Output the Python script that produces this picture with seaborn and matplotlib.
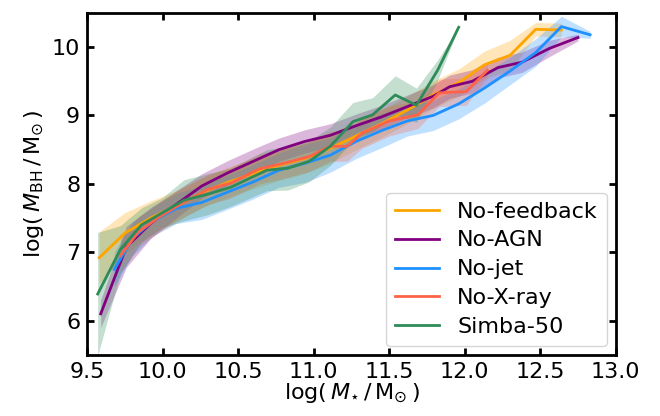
import numpy as np
import pandas as pd
import matplotlib
matplotlib.use("Agg")
import matplotlib.pyplot as plt
import seaborn as sns

names = ["No-feedback", "No-AGN", "No-jet", "No-X-ray", "Simba-50"]
colors = ["orange", "purple", "dodgerblue", "tomato", "seagreen"]

nofb_x = [9.58, 9.75, 9.92, 10.09, 10.26, 10.43, 10.60, 10.77, 10.94, 11.11, 11.28, 11.45, 11.62, 11.79, 11.96, 12.13, 12.30, 12.47, 12.64]
nofb_y = [6.92, 7.28, 7.50, 7.68, 7.87, 8.02, 8.15, 8.27, 8.37, 8.52, 8.70, 8.88, 9.08, 9.30, 9.48, 9.74, 9.88, 10.26, 10.25]
nofb_e = [0.38, 0.30, 0.25, 0.22, 0.22, 0.22, 0.22, 0.22, 0.22, 0.22, 0.20, 0.20, 0.20, 0.20, 0.20, 0.20, 0.22, 0.10, 0.10]

noagn_x = [9.59, 9.76, 9.92, 10.09, 10.26, 10.43, 10.60, 10.77, 10.94, 11.11, 11.28, 11.45, 11.62, 11.79, 11.90, 12.05, 12.22, 12.38, 12.56, 12.75]
noagn_y = [6.10, 7.08, 7.42, 7.70, 7.97, 8.16, 8.33, 8.50, 8.62, 8.71, 8.85, 8.98, 9.13, 9.28, 9.42, 9.50, 9.70, 9.78, 9.98, 10.14]
noagn_e = [0.20, 0.30, 0.22, 0.20, 0.18, 0.18, 0.18, 0.17, 0.17, 0.17, 0.17, 0.17, 0.17, 0.17, 0.17, 0.17, 0.15, 0.15, 0.12, 0.05]

nojet_x = [9.68, 9.80, 9.93, 10.09, 10.26, 10.43, 10.60, 10.77, 10.94, 11.11, 11.28, 11.45, 11.62, 11.79, 11.96, 12.13, 12.30, 12.47, 12.64, 12.83]
nojet_y = [6.75, 7.20, 7.45, 7.64, 7.73, 7.88, 8.03, 8.20, 8.30, 8.42, 8.62, 8.78, 8.92, 9.00, 9.17, 9.40, 9.65, 9.92, 10.30, 10.18]
nojet_e = [0.25, 0.25, 0.22, 0.22, 0.25, 0.25, 0.25, 0.25, 0.28, 0.25, 0.25, 0.25, 0.22, 0.22, 0.22, 0.22, 0.20, 0.20, 0.15, 0.05]

noxr_x = [9.72, 9.84, 9.98, 10.14, 10.30, 10.45, 10.64, 10.80, 10.97, 11.11, 11.22, 11.32, 11.50, 11.69, 11.83, 12.01, 12.15]
noxr_y = [6.95, 7.30, 7.52, 7.73, 7.92, 8.01, 8.22, 8.30, 8.40, 8.55, 8.55, 8.74, 8.92, 9.01, 9.33, 9.35, 9.66]
noxr_e = [0.25, 0.22, 0.22, 0.22, 0.22, 0.22, 0.22, 0.22, 0.22, 0.22, 0.22, 0.22, 0.22, 0.20, 0.20, 0.20, 0.10]

simba_x = [9.57, 9.72, 9.86, 10.00, 10.14, 10.30, 10.45, 10.69, 10.83, 10.97, 11.11, 11.26, 11.39, 11.54, 11.68, 11.82, 11.96]
simba_y = [6.39, 7.04, 7.40, 7.58, 7.76, 7.85, 7.95, 8.20, 8.23, 8.33, 8.55, 8.91, 9.01, 9.30, 9.15, 9.66, 10.29]
simba_e = [0.90, 0.35, 0.25, 0.22, 0.30, 0.30, 0.28, 0.30, 0.32, 0.30, 0.28, 0.28, 0.25, 0.28, 0.25, 0.15, 0.0]

series = [(nofb_x, nofb_y, nofb_e), (noagn_x, noagn_y, noagn_e), (nojet_x, nojet_y, nojet_e),
          (noxr_x, noxr_y, noxr_e), (simba_x, simba_y, simba_e)]

rows = []
for name, (xs, ys, es) in zip(names, series):
    for xv, yv in zip(xs, ys):
        rows.append({"x": xv, "y": yv, "sim": name})
df = pd.DataFrame(rows)

fig = plt.figure(figsize=(6.6, 4.16), dpi=100)
ax = fig.add_axes([0.132, 0.147, 0.801, 0.822])

for name, col, (xs, ys, es) in zip(names, colors, series):
    xs = np.array(xs); ys = np.array(ys); es = np.array(es)
    ax.fill_between(xs, ys - es, ys + es, color=col, alpha=0.28, lw=0)

sns.lineplot(data=df, x="x", y="y", hue="sim", hue_order=names,
             palette=dict(zip(names, colors)), sort=False, lw=2, ax=ax, legend=True)

ax.set_xlim(9.5, 13.0)
ax.set_ylim(5.5, 10.5)
ax.set_xticks([9.5, 10.0, 10.5, 11.0, 11.5, 12.0, 12.5, 13.0])
ax.set_yticks([6, 7, 8, 9, 10])
ax.tick_params(direction="in", top=True, right=True, width=2, length=5, labelsize=16, pad=5)
for s in ax.spines.values():
    s.set_linewidth(2)
ax.set_xlabel(r"log($\,M_{\star}\,/\,{\rm M}_{\odot}\,$)", fontsize=16, labelpad=0)
ax.set_ylabel(r"log($\,M_{\rm BH}\,/\,{\rm M}_{\odot}\,$)", fontsize=16, labelpad=4)

handles, labels = ax.get_legend_handles_labels()
ax.legend(handles, labels, loc="lower right", fontsize=16, frameon=True,
          handlelength=2.0, borderpad=0.4, labelspacing=0.4, borderaxespad=0.4)

fig.savefig("out.png", dpi=100)
